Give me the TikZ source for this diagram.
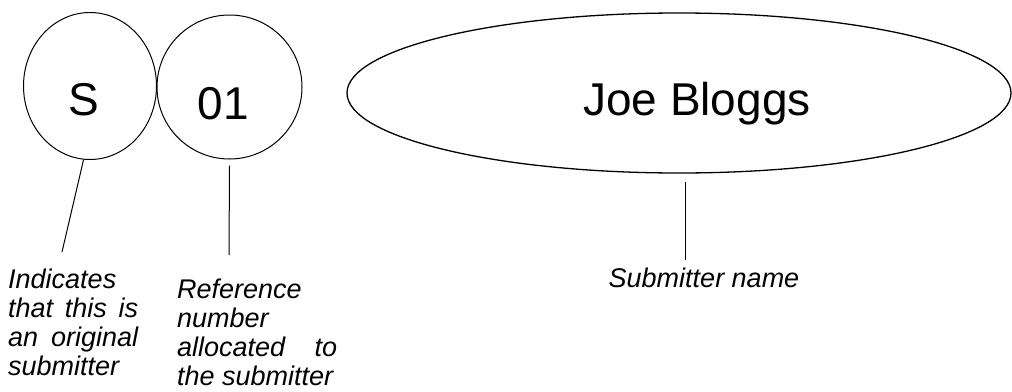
\documentclass[tikz,border=0pt]{standalone}
\usepackage{fontspec}
\setmainfont{Liberation Sans}
\usetikzlibrary{shapes.geometric}
\hyphenpenalty=10000
\exhyphenpenalty=10000
\tolerance=10000

\tikzset{
  bubble/.style={draw, ellipse, line width=1pt, inner sep=0pt},
  bigtext/.style={font=\fontsize{46}{55}\selectfont, inner sep=0pt},
  note/.style={font=\fontsize{27}{29}\selectfont\itshape, inner sep=0pt},
}

\begin{document}
\begin{tikzpicture}[x=1pt, y=-1pt]

\useasboundingbox (0,0) rectangle (1012,391);

% Bubbles
\node[bubble, minimum width=133pt, minimum height=147pt] (sCirc) at (90,86) {};
\node[bubble, minimum width=145pt, minimum height=144pt] (refCirc) at (229.5,87) {};
\node[bubble, line width=1.3pt, minimum width=664pt, minimum height=160pt] (joe) at (679,93) {};

% Texts in bubbles
\node[bigtext, anchor=base] (sTxt) at (84,115) {S};
\node[bigtext, anchor=base] (refTxt) at (223.5,119) {01};
\node[bigtext, anchor=base] (joeTxt) at (697,115) {Joe Bloggs};

% Free ends of the pointers
\coordinate (sTail) at (62,252);
\coordinate (refTail) at (229,255);
\coordinate (joeTail) at (685,260);

% Pointers
\draw[line width=1pt] (sCirc.265) -- (sTail);
\draw[line width=1pt] ([yshift=-6pt]refCirc.south) -- (refTail);
\draw[line width=1pt] ([xshift=6pt,yshift=-8pt]joe.south) -- (joeTail);

% Labels
\node[note, anchor=base west, text width=130pt, align=justify] (sNote) at (8,288)
  {Indicates that this is an original submitter};
\node[note, anchor=base west, text width=160pt, align=justify] (refNote) at (177,298)
  {Reference number allocated to the submitter};
\node[note, anchor=base] (joeNote) at (704,287) {Submitter name};

\end{tikzpicture}
\end{document}
